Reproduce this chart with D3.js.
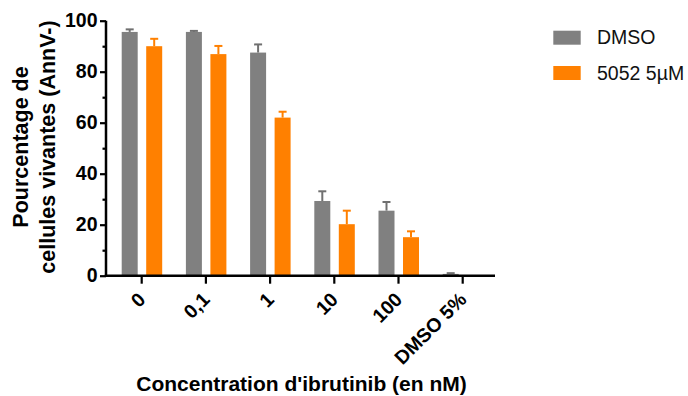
<!DOCTYPE html>
<html><head><meta charset="utf-8">
<script src="https://cdn.jsdelivr.net/npm/d3@7"></script>
<style>
html,body{margin:0;padding:0;background:#fff;}
svg text{font-family:"Liberation Sans",Arial,sans-serif;}
</style></head>
<body><svg id="c" width="688" height="396"></svg>
<script>
const categories = ["0", "0,1", "1", "10", "100", "DMSO 5%"];
const seriesNames = ["DMSO", "5052 5µM"];
const dmsoValues = [95.6, 95.6, 87.5, 29.3, 25.5, 0.7];
const dmsoErrors = [1.0, 0.4, 3.2, 3.8, 3.4, 0.3];
const drugValues = [90.0, 86.9, 62.0, 20.2, 15.1, null];
const drugErrors = [2.9, 3.2, 2.3, 5.3, 2.3, null];
const yTicks = [0, 20, 40, 60, 80, 100];
const yMinorTicks = [10, 30, 50, 70, 90];
const colors = ["#808080", "#ff8000"];
const errColors = ["#707070", "#ff8000"];

const svg = d3.select("#c");
const y = d3.scaleLinear().domain([0, 100]).range([275.7, 20.7]);
const x0 = d3.scaleBand().domain(categories).range([109.6, 494.8]).padding(0);
const x1 = d3.scaleBand().domain(seriesNames).range([-20, 20.5]).paddingInner(0.347).paddingOuter(0);

const series = [
  {name: seriesNames[0], vals: dmsoValues, errs: dmsoErrors},
  {name: seriesNames[1], vals: drugValues, errs: drugErrors}
];

const g = svg.append("g");
series.forEach((s, si) => {
  categories.forEach((c, i) => {
    const v = s.vals[i];
    if (v == null) return;
    const cx = x0(c) + x0.bandwidth() / 2;
    const bx = cx + x1(s.name);
    const bw = x1.bandwidth();
    const mid = bx + bw / 2;
    const e = s.errs[i];
    g.append("line").attr("x1", mid).attr("x2", mid)
      .attr("y1", y(v)).attr("y2", y(v + e))
      .attr("stroke", errColors[si]).attr("stroke-width", 2);
    g.append("line").attr("x1", mid - 4).attr("x2", mid + 4)
      .attr("y1", y(v + e)).attr("y2", y(v + e))
      .attr("stroke", errColors[si]).attr("stroke-width", 2);
    g.append("rect").attr("x", bx).attr("y", y(v))
      .attr("width", bw).attr("height", y(0) - y(v))
      .attr("fill", colors[si]);
  });
});

// Y axis
const yAxis = d3.axisLeft(y).tickValues(yTicks).tickSize(6).tickPadding(2.5);
const ya = svg.append("g").attr("transform", "translate(106,0)").call(yAxis);
ya.select(".domain").attr("stroke", "#000").attr("stroke-width", 2.5).attr("d", `M0,${y(100)}V${y(0)+1.2}`);
ya.selectAll(".tick line").attr("stroke", "#000").attr("stroke-width", 2.2);
ya.selectAll(".tick text").attr("fill", "#000").attr("font-size", 19.5).attr("font-weight", "bold")
  .attr("font-family", "'Liberation Sans', Arial, sans-serif");
const yMinor = d3.axisLeft(y).tickValues(yMinorTicks).tickSize(3.5).tickFormat("");
const ym = svg.append("g").attr("transform", "translate(106,0)").call(yMinor);
ym.select(".domain").remove();
ym.selectAll(".tick line").attr("stroke", "#000").attr("stroke-width", 2.2);

// X axis
const xAxis = d3.axisBottom(x0).tickSize(8).tickSizeOuter(0);
const xa = svg.append("g").attr("transform", `translate(0,${y(0)})`).call(xAxis);
xa.select(".domain").attr("stroke", "#000").attr("stroke-width", 2.5).attr("d", "M104.8,0H495");
xa.selectAll(".tick line").attr("stroke", "#000").attr("stroke-width", 2.2);
xa.selectAll(".tick text")
  .attr("fill", "#000").attr("font-size", 19.5).attr("font-weight", "bold")
  .attr("font-family", "'Liberation Sans', Arial, sans-serif")
  .attr("text-anchor", "end")
  .attr("y", 0).attr("dy", 0)
  .attr("transform", "translate(5,25) rotate(-45)");

// Axis titles
const yt = svg.append("text")
  .attr("transform", "translate(0,147) rotate(-90)")
  .attr("text-anchor", "middle")
  .attr("font-size", 21.5).attr("font-weight", "bold").attr("fill", "#000");
yt.append("tspan").attr("x", 0).attr("y", 28).text("Pourcentage de");
yt.append("tspan").attr("x", 0).attr("y", 55).text("cellules vivantes (AnnV-)");

svg.append("text").attr("x", 301.5).attr("y", 391)
  .attr("text-anchor", "middle").attr("font-size", 21).attr("font-weight", "bold")
  .attr("fill", "#000").text("Concentration d'ibrutinib (en nM)");

// Legend
const leg = svg.append("g");
seriesNames.forEach((n, i) => {
  const ly = 30.7 + i * 35.3;
  leg.append("rect").attr("x", 553.3).attr("y", ly).attr("width", 27.4).attr("height", 14)
    .attr("fill", colors[i]);
  leg.append("text").attr("x", 597).attr("y", ly + 13.5)
    .attr("font-size", 19.5).attr("fill", "#111").text(n);
});
</script></body></html>
